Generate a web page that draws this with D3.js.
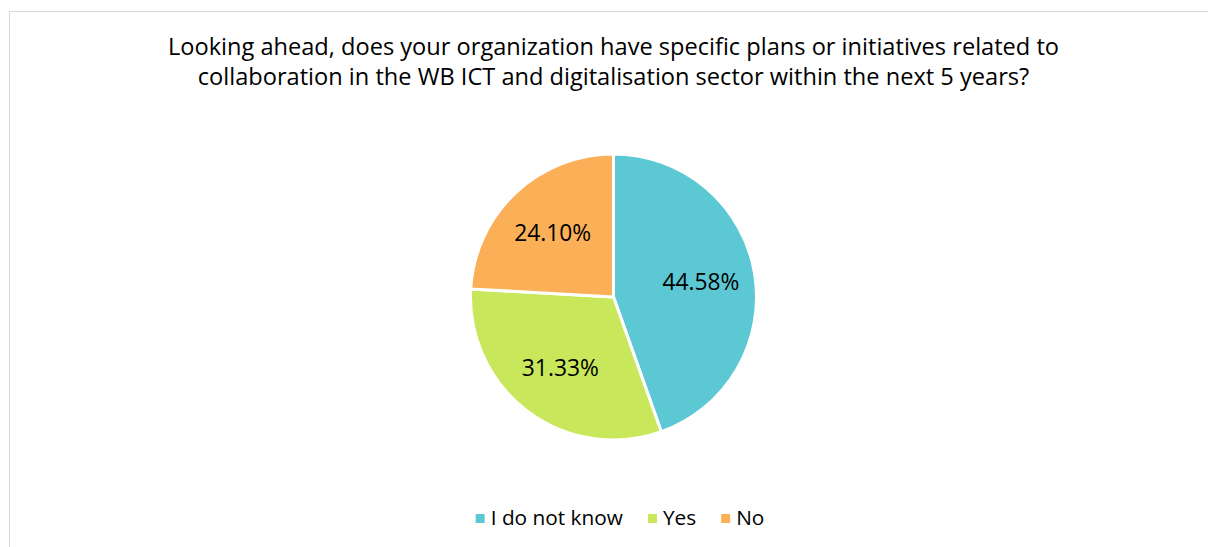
<!DOCTYPE html>
<html lang="en">
<head>
<meta charset="utf-8">
<title>Collaboration plans</title>
<script src="https://cdn.jsdelivr.net/npm/d3@7"></script>
<style>
    body { margin: 0; background: #fff; }
    .title { text-anchor: middle; font-size: 23.6px; font-family: "Open Sans", sans-serif; fill: #000; }
    .slice-label { text-anchor: middle; font-size: 22.8px; font-family: "Open Sans", sans-serif; fill: #000; }
    .legend-text { font-size: 20.8px; font-family: "Open Sans", sans-serif; fill: #000; }
</style>
</head>
<body>
<div id="chart"></div>
<script>
var categories = ["I do not know", "Yes", "No"];
var values = [44.58, 31.33, 24.10];
var colors = ["#5CC8D4", "#C9E75B", "#FBAF57"];
var titleLines = [
    "Looking ahead, does your organization have specific plans or initiatives related to",
    "collaboration in the WB ICT and digitalisation sector within the next 5 years?"
];

var width = 1208, height = 547;
var cx = 613.5, cy = 297, radius = 143;

var svg = d3.select("#chart").append("svg")
    .attr("width", width)
    .attr("height", height);

// chart area border (only top and left visible)
svg.append("rect")
    .attr("x", 9.5)
    .attr("y", 11.5)
    .attr("width", width)
    .attr("height", height)
    .style("fill", "none")
    .style("stroke", "#d9d9d9")
    .style("stroke-width", 1);

svg.selectAll("text.title")
    .data(titleLines)
    .enter()
    .append("text")
    .attr("class", "title")
    .attr("x", cx)
    .attr("y", function(d, i) { return 55 + i * 30; })
    .text(function(d) { return d; });

var pie = d3.pie().sort(null).value(function(d) { return d; });
var arc = d3.arc().innerRadius(0).outerRadius(radius);
var labelArc = d3.arc().innerRadius(radius * 0.62).outerRadius(radius * 0.62);

var plt = svg.append("g").attr("transform", "translate(" + cx + "," + cy + ")");

var arcs = pie(values);

plt.selectAll("path")
    .data(arcs)
    .enter()
    .append("path")
    .attr("d", arc)
    .style("fill", function(d, i) { return colors[i]; })
    .style("stroke", "#fff")
    .style("stroke-width", 3)
    .style("stroke-linejoin", "round");

plt.selectAll("text")
    .data(arcs)
    .enter()
    .append("text")
    .attr("class", "slice-label")
    .attr("transform", function(d) { return "translate(" + labelArc.centroid(d) + ")"; })
    .attr("dy", "0.35em")
    .text(function(d) { return d.data.toFixed(2) + "%"; });

// legend, centred under the plot area
var legend = svg.append("g");
var items = legend.selectAll("g")
    .data(categories)
    .enter()
    .append("g");

items.append("rect")
    .attr("width", 9)
    .attr("height", 9)
    .attr("y", -11)
    .style("fill", function(d, i) { return colors[i]; });

items.append("text")
    .attr("class", "legend-text")
    .attr("x", 15)
    .attr("y", 0)
    .text(function(d) { return d; });

var xPos = 0;
items.attr("transform", function() {
    var w = this.getBBox().width;
    var t = "translate(" + xPos + ",0)";
    xPos += w + 25;
    return t;
});
var legendW = xPos - 25;
legend.attr("transform", "translate(" + (620 - legendW / 2) + ",525)");
</script>
</body>
</html>
